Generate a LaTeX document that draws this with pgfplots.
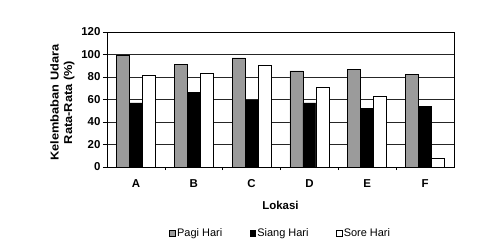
\documentclass[border=0pt]{standalone}
\usepackage{pgfplots}
\pgfplotsset{compat=1.18}
\usepackage{fontspec}
\setmainfont{Liberation Sans}
\definecolor{pagi}{RGB}{155,155,155}
\begin{document}
\begin{tikzpicture}
\path[use as bounding box] (0,0) rectangle (488bp,245bp);
\begin{axis}[
  at={(107bp,78bp)}, anchor=south west,
  scale only axis, width=347bp, height=135bp,
  ymin=0, ymax=120, ytick={0,20,...,120},
  xmin=-0.5, xmax=5.5,
  xtick={0,...,5}, xticklabels={A,B,C,D,E,F},
  minor xtick={0.5,1.5,2.5,3.5,4.5},
  major x tick style={draw=none},
  minor tick length=3bp, major tick length=4bp,
  tick align=outside, xtick pos=bottom, ytick pos=left,
  ymajorgrids, grid style={black!85, line width=0.6pt},
  axis line style={black, line width=0.8pt},
  tick style={black, line width=0.6pt},
  ybar=0pt, bar width=13bp,
  /pgf/number format/assume math mode=true,
  tick label style={font=\fontsize{11.5}{13}\selectfont\bfseries},
  yticklabel style={xshift=1bp},
  xticklabel style={yshift=-5bp},
  xlabel={Lokasi},
  xlabel style={at={(axis description cs:0.5,-0.283)}, anchor=center, font=\fontsize{11.5}{13}\selectfont\bfseries},
  ylabel={\scalebox{1.12}[1]{\begin{tabular}{@{}c@{}}Kelembaban Udara\\[-1pt]Rata-Rata (\%)\end{tabular}}},
  ylabel style={at={(axis description cs:-0.128,0.478)}, anchor=center, rotate=0, font=\fontsize{11.5}{14.5}\selectfont\bfseries},
  legend columns=3,
  legend style={at={(axis description cs:0.5,-0.489)}, anchor=center, draw=none, fill=none,
     font=\fontsize{11}{12}\selectfont, nodes={inner xsep=1.5bp},
     /tikz/every even column/.append style={column sep=26bp}},
  legend image code/.code={\draw[#1, line width=0.6pt] (0bp,-2.8bp) rectangle (5.6bp,2.8bp);},
]
\addplot[draw=black, fill=pagi, line width=0.6pt] coordinates {(0,99) (1,91.5) (2,97) (3,85.5) (4,87) (5,82)};
\addplot[draw=black, fill=black, line width=0.6pt] coordinates {(0,57) (1,66) (2,59.5) (3,57) (4,52) (5,54)};
\addplot[draw=black, fill=white, line width=0.6pt] coordinates {(0,81.5) (1,83.5) (2,90) (3,70.5) (4,62.5) (5,7.5)};
\legend{Pagi Hari, Siang Hari, Sore Hari}
\end{axis}
\end{tikzpicture}
\end{document}
